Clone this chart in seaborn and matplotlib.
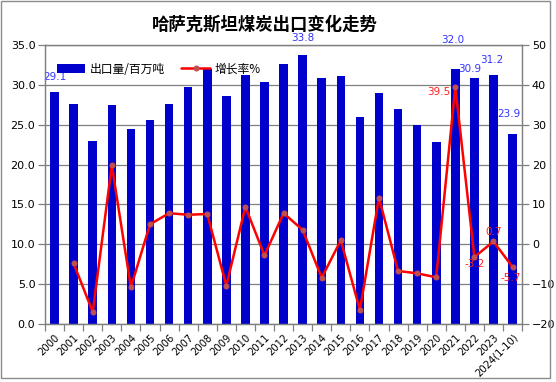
import numpy as np
import matplotlib
matplotlib.use("Agg")
import matplotlib.pyplot as plt
from matplotlib.patches import Rectangle
from matplotlib.ticker import MultipleLocator, FormatStrFormatter
import seaborn as sns

# ---- data ----
YEARS = [str(y) for y in range(2000, 2024)] + ["2024(1-10)"]
EXPORTS = [29.1, 27.6, 23.0, 27.5, 24.5, 25.6, 27.6, 29.7, 32.0, 28.6,
           31.2, 30.4, 32.6, 33.8, 30.9, 31.1, 26.0, 29.0, 27.0, 25.0,
           22.8, 32.0, 30.9, 31.2, 23.9]
GROWTH = [np.nan, -4.8, -17.0, 19.8, -10.8, 5.0, 7.8, 7.4, 7.6, -10.4,
          9.4, -2.8, 7.8, 3.6, -8.4, 1.0, -16.5, 11.7, -6.7, -7.3,
          -8.3, 39.5, -3.2, 0.7, -5.7]
TITLE = "哈萨克斯坦煤炭出口变化走势"
BAR_NAME = "出口量/百万吨"
LINE_NAME = "增长率%"

# which points get value labels, with (dx, dy) offsets in points
BAR_LABELS = {0: (0, 11), 13: (0, 12), 21: (-2, 21), 22: (-3, 6),
              23: (-1, 11), 24: (-3, 14)}
LINE_LABELS = {21: (-12, -4), 22: (0, -5), 23: (0, 7), 24: (-1, -8)}

BAR_COLOR = "#0000CC"
LINE_COLOR = "#FF0000"
MARKER_COLOR = "#C0504D"
GRID = "#808080"

sns.set_theme(style="white")
plt.rcParams["font.family"] = ["DejaVu Sans", "Noto Sans CJK SC"]
plt.rcParams["text.color"] = "black"
plt.rcParams["xtick.color"] = "black"
plt.rcParams["ytick.color"] = "black"

fig = plt.figure(figsize=(5.56, 3.82), dpi=100)
ax = fig.add_axes([0.081, 0.152, 0.858, 0.730])

sns.barplot(x=YEARS, y=EXPORTS, color=BAR_COLOR, saturation=1,
            width=0.45, ax=ax, label=BAR_NAME, zorder=2, linewidth=0)
ax.set_xlim(-0.5, len(YEARS) - 0.5)
ax.set_ylim(0, 35)
ax.yaxis.set_major_locator(MultipleLocator(5))
ax.yaxis.set_major_formatter(FormatStrFormatter("%.1f"))
ax.yaxis.grid(True, color=GRID, lw=0.9, zorder=0)
ax.set_axisbelow(True)
ax.set_xlabel("")
ax.set_ylabel("")

# category boundaries as tick marks, labels at centers
ax.set_xticks(np.arange(len(YEARS)))
ax.set_xticklabels(YEARS, rotation=45, ha="right", rotation_mode="anchor",
                   fontsize=7.2)
ax.set_xticks(np.arange(-0.5, len(YEARS)), minor=True)
ax.tick_params(axis="x", which="major", length=0, pad=6, colors="black")
ax.tick_params(axis="x", which="minor", length=5, color=GRID, width=0.9,
               direction="out", bottom=True)
ax.tick_params(axis="y", length=5, color=GRID, width=0.9, direction="out",
               left=True, labelsize=8, pad=2, labelcolor="black")

ax2 = ax.twinx()
sns.lineplot(x=np.arange(len(YEARS)), y=GROWTH, ax=ax2, color=LINE_COLOR,
             lw=1.8, marker="o", markersize=3.6, markerfacecolor=MARKER_COLOR,
             markeredgecolor=MARKER_COLOR, label=LINE_NAME, zorder=3)
ax2.set_ylim(-20, 50)
ax2.yaxis.set_major_locator(MultipleLocator(10))
ax2.tick_params(axis="y", length=5, color=GRID, width=0.9, direction="out",
                right=True, labelsize=8, pad=2, labelcolor="black")
ax2.set_ylabel("")
ax2.grid(False)

for a in (ax, ax2):
    for s in a.spines.values():
        s.set_color(GRID)
        s.set_linewidth(0.9)

for i, (dx, dy) in BAR_LABELS.items():
    ax.annotate(f"{EXPORTS[i]:.1f}", (i, EXPORTS[i]), xytext=(dx, dy),
                textcoords="offset points", ha="center", va="center",
                fontsize=7.5, color="#3333FF")
for i, (dx, dy) in LINE_LABELS.items():
    ax2.annotate(f"{GROWTH[i]:.1f}", (i, GROWTH[i]), xytext=(dx, dy),
                 textcoords="offset points", ha="center", va="center",
                 fontsize=7.5, color="#FF2020")

# combined legend
h1, l1 = ax.get_legend_handles_labels()
h2, l2 = ax2.get_legend_handles_labels()
if ax2.get_legend():
    ax2.get_legend().remove()
ax.legend(h1 + h2, l1 + l2, loc="center left", bbox_to_anchor=(0.012, 0.914),
          ncol=2, frameon=False, handlelength=2.4,
          handletextpad=0.4, columnspacing=1.4, borderpad=0,
          prop={"family": ["Noto Sans CJK SC"], "size": 8.5})

fig.text(0.477, 0.935, TITLE, ha="center", va="center", fontsize=12.5,
         fontweight="bold", family=["Noto Sans CJK SC"], color="black")

fig.patches.append(Rectangle((0.001, 0.0105), 0.989, 0.988,
                             transform=fig.transFigure, fill=False,
                             edgecolor="#8C8C8C", lw=1))

fig.savefig("out.png", dpi=100)
